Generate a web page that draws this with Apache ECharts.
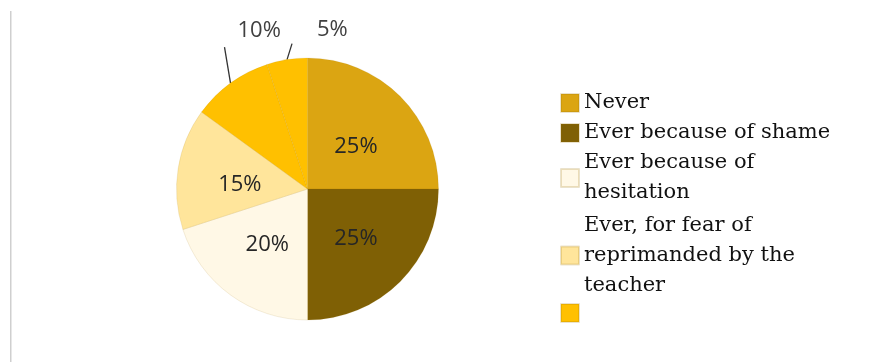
<!DOCTYPE html>
<html>
<head>
<meta charset="utf-8">
<script src="https://cdn.jsdelivr.net/npm/echarts@6/dist/echarts.min.js"></script>
<style>
  html, body { margin: 0; padding: 0; background: #fff; }
  #chart { width: 885px; height: 362px; }
</style>
</head>
<body>
<div id="chart"></div>
<script>
// Answers: has the student ever held back from asking the teacher, and why
const categories = [
  'Never',
  'Ever because of shame',
  'Ever because of\nhesitation',
  'Ever, for fear of\nreprimanded by the\nteacher',
  'other_a',
  'other_b'
];
const legendText = {
  'other_a': ''
};
const percents = [25, 25, 20, 15, 10, 5];
const sliceColors = ['#DBA512', '#7F6005', '#FFF8E6', '#FFE59B', '#FFC000', '#FFC000'];

const chart = echarts.init(document.getElementById('chart'));

const pieData = categories.map((name, i) => {
  const item = {
    name: name,
    value: percents[i],
    itemStyle: { color: sliceColors[i] }
  };
  if (i >= 4) {
    item.label = { position: 'outside', color: '#404040' };
    item.labelLine = { show: true, length: 10, length2: 0, lineStyle: { color: '#333333', width: 1.3 } };
  }
  return item;
});

// nudges for the inside labels
const insideShift = [6, 1, 0, 6];
// leader line and label offsets for the two small outer slices
const outerOffsets = {
  4: { line: [-6, -36], label: [7, -52] },
  5: { line: [5, -16], label: [30, -30] }
};

const legendData = categories.slice(0, 5).map((name, i) => (
  i === 3 ? { name: name, textStyle: { padding: [5, 0, 0, 0] } } : { name: name }
));

chart.setOption({
  backgroundColor: '#ffffff',
  animation: false,
  legend: {
    orient: 'vertical',
    left: 555,
    top: 83,
    itemWidth: 18,
    itemHeight: 18,
    itemGap: 0,
    icon: 'rect',
    data: legendData,
    formatter: name => (name in legendText ? legendText[name] : name),
    textStyle: {
      fontFamily: 'DejaVu Serif',
      fontSize: 21,
      lineHeight: 30,
      color: '#111111'
    },
    selectedMode: false
  },
  graphic: [{
    type: 'rect',
    shape: { x: 10, y: 11, width: 1.5, height: 360 },
    style: { fill: '#cfcfcf' },
    silent: true
  }],
  series: [{
    type: 'pie',
    center: [307.5, 189],
    radius: [0, 131],
    startAngle: 90,
    clockwise: true,
    avoidLabelOverlap: false,
    itemStyle: { borderColor: 'rgba(150,110,0,0.2)', borderWidth: 0.6 },
    label: {
      show: true,
      position: 'inside',
      formatter: '{c}%',
      fontFamily: 'Open Sans',
      fontSize: 22,
      color: '#262626'
    },
    labelLine: { show: false },
    emphasis: { disabled: true },
    labelLayout: function (params) {
      const off = outerOffsets[params.dataIndex];
      if (!off) return { dy: insideShift[params.dataIndex] || 0 };
      if (!params.labelLinePoints) return {};
      const p = params.labelLinePoints[0];
      return {
        x: p[0] + off.label[0],
        y: p[1] + off.label[1],
        align: 'left',
        verticalAlign: 'middle',
        labelLinePoints: [[p[0], p[1]], [p[0] + off.line[0], p[1] + off.line[1]]]
      };
    },
    data: pieData
  }]
});
</script>
</body>
</html>
